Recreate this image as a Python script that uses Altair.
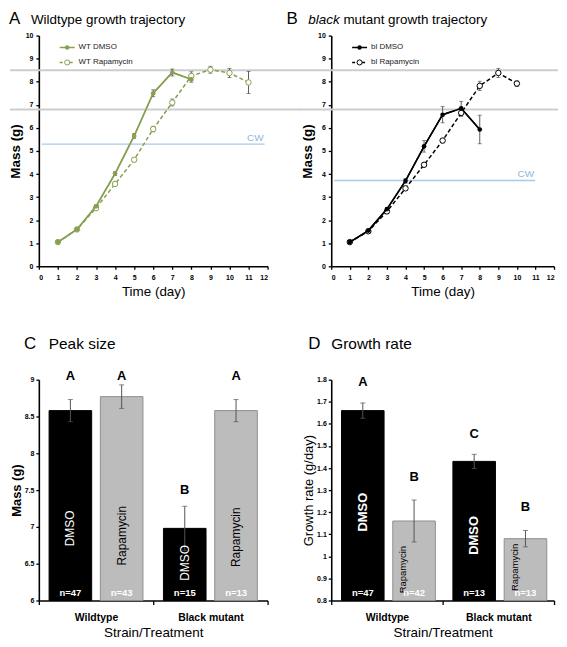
import altair as alt
import pandas as pd

FONT = "Liberation Sans"

# ---------------- Panel A / B data ----------------
wt_dmso_day = [1, 2, 3, 4, 5, 6, 7, 8]
wt_dmso_mass = [1.05, 1.60, 2.60, 4.02, 5.65, 7.50, 8.40, 8.10]
wt_dmso_err = [0.03, 0.04, 0.06, 0.08, 0.10, 0.15, 0.15, 0.12]
wt_rap_day = [1, 2, 3, 4, 5, 6, 7, 8, 9, 10, 11]
wt_rap_mass = [1.05, 1.60, 2.52, 3.57, 4.62, 5.95, 7.10, 8.25, 8.52, 8.38, 7.97]
wt_rap_err = [0.03, 0.04, 0.05, 0.06, 0.07, 0.12, 0.15, 0.18, 0.15, 0.20, 0.48]

bl_dmso_day = [1, 2, 3, 4, 5, 6, 7, 8]
bl_dmso_mass = [1.05, 1.55, 2.48, 3.70, 5.20, 6.57, 6.85, 5.93]
bl_dmso_err = [0.03, 0.04, 0.06, 0.10, 0.25, 0.35, 0.30, 0.62]
bl_rap_day = [1, 2, 3, 4, 5, 6, 7, 8, 9, 10]
bl_rap_mass = [1.05, 1.52, 2.38, 3.38, 4.40, 5.45, 6.65, 7.82, 8.38, 7.92]
bl_rap_err = [0.03, 0.04, 0.06, 0.06, 0.08, 0.10, 0.15, 0.20, 0.20, 0.12]

ref_gray = [8.5, 6.8]
cw_wt = 5.3
cw_bl = 3.72

x_ticks = list(range(0, 13))
y_ticks = list(range(0, 11))

# ---------------- Panel C / D data ----------------
strains = ["Wildtype", "Black mutant"]
treatments = ["DMSO", "Rapamycin"]
bar_strain = ["Wildtype", "Wildtype", "Black mutant", "Black mutant"]
bar_treat = ["DMSO", "Rapamycin", "DMSO", "Rapamycin"]

peak_mean = [8.58, 8.77, 6.98, 8.58]
peak_err = [0.15, 0.16, 0.30, 0.15]
peak_n = ["n=47", "n=43", "n=15", "n=13"]
peak_letter = ["A", "A", "B", "A"]
peak_letter_y = [9.0, 9.0, 7.45, 9.0]
peak_label_y = [6.98, 6.88, 6.51, 6.86]
peak_ticks = [6, 6.5, 7, 7.5, 8, 8.5, 9]

rate_mean = [1.66, 1.16, 1.43, 1.08]
rate_err = [0.035, 0.095, 0.032, 0.037]
rate_n = ["n=47", "n=42", "n=13", "n=13"]
rate_letter = ["A", "B", "C", "B"]
rate_letter_y = [1.77, 1.34, 1.535, 1.205]
rate_label_y = [1.20, 0.94, 1.095, 0.95]
rate_ticks = [0.8, 0.9, 1.0, 1.1, 1.2, 1.3, 1.4, 1.5, 1.6, 1.7, 1.8]

W1, W2 = 230, 224
H1, H2 = 232, 222
COLSP, ROWSP = 64, 114

OLIVE = "#86a04f"
GRAYLINE = "#cdcdcd"
CWBLUE = "#a9c9e8"


def txt(text, x, y, size, weight="normal", style="normal", color="black",
        align="left", baseline="alphabetic"):
    return alt.Chart(pd.DataFrame({"t": [text]})).mark_text(
        font=FONT, fontSize=size, fontWeight=weight, fontStyle=style,
        color=color, align=align, baseline=baseline
    ).encode(x=alt.value(x), y=alt.value(y), text="t:N")


def series_df(day, mass, err):
    return pd.DataFrame({
        "day": day, "y": mass,
        "lo": [m - e for m, e in zip(mass, err)],
        "hi": [m + e for m, e in zip(mass, err)],
    })


AX = dict(labelOverlap=False, labelFont=FONT, labelFontWeight="bold", labelFontSize=7,
          labelColor="black", tickColor="black", tickWidth=1.3, tickSize=3,
          domainColor="black", domainWidth=1.6, grid=False, titleFont=FONT,
          titleColor="black")


def traj_panel(dmso, rap, names, color, cw, width, line_l, line_r, cw_l, cw_r,
               title_layers):
    xs = alt.Scale(domain=[0, 12], nice=False)
    ys = alt.Scale(domain=[0, 10], nice=False)
    xa = alt.X("day:Q", scale=xs, axis=alt.Axis(values=x_ticks, tickCount=50, format="d",
                                                title="Time (day)",
                                                titleFontSize=13.5, titlePadding=4,
                                                titleFontWeight="normal",
                                                labelPadding=4, **AX))
    ya = alt.Y("y:Q", scale=ys, axis=alt.Axis(values=y_ticks, tickCount=50, format="d",
                                              title="Mass (g)",
                                              titleFontSize=13.5, titleFontWeight="bold",
                                              titlePadding=3, labelPadding=3, **AX))
    xn = alt.X("day:Q", scale=xs)
    yn = alt.Y("y:Q", scale=ys)

    layers = []
    gray = alt.Chart(pd.DataFrame({"y": ref_gray})).mark_rule(
        color=GRAYLINE, strokeWidth=2
    ).encode(y=yn, x=alt.value(line_l), x2=alt.value(line_r))
    cwl = alt.Chart(pd.DataFrame({"y": [cw]})).mark_rule(
        color=CWBLUE, strokeWidth=1.3
    ).encode(y=yn, x=alt.value(cw_l), x2=alt.value(cw_r))
    cwt = alt.Chart(pd.DataFrame({"y": [cw], "t": ["CW"]})).mark_text(
        font=FONT, fontSize=10, color="#8fb6e0", align="right", dy=-6
    ).encode(y=yn, x=alt.value(cw_r - 1), text="t:N")

    main = alt.Chart(dmso).mark_line(color=color, strokeWidth=1.5).encode(x=xa, y=ya)
    layers += [main, gray, cwl, cwt]

    for df in [rap, dmso]:
        eb = alt.Chart(df).mark_rule(color="#333333", strokeWidth=0.8).encode(
            x=xn, y=alt.Y("lo:Q", scale=ys), y2="hi:Q")
        cap_hi = alt.Chart(df).mark_tick(orient="horizontal", size=4, thickness=0.8,
                                         color="#333333").encode(
            x=xn, y=alt.Y("hi:Q", scale=ys))
        cap_lo = alt.Chart(df).mark_tick(orient="horizontal", size=4, thickness=0.8,
                                         color="#333333").encode(
            x=xn, y=alt.Y("lo:Q", scale=ys))
        layers += [eb, cap_hi, cap_lo]

    rap_line = alt.Chart(rap).mark_line(color=color, strokeWidth=1.5,
                                        strokeDash=[4, 2.5]).encode(x=xn, y=yn)
    rap_pts = alt.Chart(rap).mark_point(shape="circle", fill="white", fillOpacity=1,
                                        stroke=color, strokeWidth=1, size=30,
                                        opacity=1).encode(x=xn, y=yn)
    dmso_line = alt.Chart(dmso).mark_line(color=color, strokeWidth=1.5).encode(x=xn, y=yn)
    dmso_pts = alt.Chart(dmso).mark_point(shape="circle", filled=True, color=color,
                                          size=22, opacity=1).encode(x=xn, y=yn)
    layers += [rap_line, rap_pts, dmso_line, dmso_pts]

    # legend (manual, inside plot at top-left)
    for i, (nm, dashed, filled) in enumerate([(names[0], False, True), (names[1], True, False)]):
        yy = 12 + 15 * i
        d = pd.DataFrame({"t": [nm]})
        r = alt.Chart(d).mark_rule(color=color, strokeWidth=1.5,
                                   strokeDash=[3, 2] if dashed else [1, 0]).encode(
            x=alt.value(21), x2=alt.value(36), y=alt.value(yy))
        if filled:
            p = alt.Chart(d).mark_point(shape="circle", filled=True, color=color,
                                        size=20, opacity=1).encode(
                x=alt.value(28.5), y=alt.value(yy))
        else:
            p = alt.Chart(d).mark_point(shape="circle", fill="white", fillOpacity=1,
                                        stroke=color, strokeWidth=1, size=26,
                                        opacity=1).encode(
                x=alt.value(28.5), y=alt.value(yy))
        t = alt.Chart(d).mark_text(font=FONT, fontSize=8, align="left",
                                   baseline="middle", color="#222222").encode(
            x=alt.value(40), y=alt.value(yy), text="t:N")
        layers += [r, p, t]

    layers += title_layers
    return alt.layer(*layers).properties(width=width, height=H1)


def bar_panel(mean, err, ns, letters, letter_y, label_y, ydomain, yticks, ytitle,
              width, dmso_font, dmso_weight, rap_font, rap_dy, title_layers):
    df = pd.DataFrame({
        "strain": bar_strain, "treat": bar_treat, "mean": mean,
        "lo": [m - e for m, e in zip(mean, err)],
        "hi": [m + e for m, e in zip(mean, err)],
        "n": ns, "letter": letters, "ly": letter_y, "lab_y": label_y,
    })
    xscale = alt.Scale(paddingInner=0, paddingOuter=0)
    axx = dict(AX)
    axx.update(labelFontSize=10.5, tickSize=4)
    xa = alt.X("strain:N", sort=strains, scale=xscale,
               axis=alt.Axis(title="Strain/Treatment", tickBand="extent", labelAngle=0,
                             labelPadding=8, titleFontSize=13.5, titleFontWeight="normal",
                             titlePadding=3, **axx))
    xn = alt.X("strain:N", sort=strains, scale=xscale)
    xo = alt.XOffset("treat:N", sort=treatments,
                     scale=alt.Scale(paddingInner=0.17, paddingOuter=0.2))
    ys = alt.Scale(domain=ydomain, nice=False, zero=False)
    ya = alt.Y("mean:Q", scale=ys, axis=alt.Axis(values=yticks, tickCount=50, format="~g",
                                                 title=ytitle,
                                                 titleFontSize=13, titlePadding=1,
                                                 labelPadding=2,
                                                 titleFontWeight="bold" if ytitle == "Mass (g)" else "normal",
                                                 **AX))
    base = alt.Chart(df)
    bars = base.mark_bar(strokeWidth=1).encode(
        x=xa, xOffset=xo, y=ya, y2=alt.datum(ydomain[0]),
        fill=alt.Fill("treat:N", scale=alt.Scale(domain=treatments, range=["#000000", "#bcbcbc"]),
                      legend=None),
        stroke=alt.Stroke("treat:N", scale=alt.Scale(domain=treatments, range=["#000000", "#8e8e8e"]),
                          legend=None),
    )
    eb = base.mark_rule(color="#555555", strokeWidth=1).encode(
        x=xn, xOffset=xo, y=alt.Y("lo:Q", scale=ys), y2="hi:Q")
    cap = base.mark_tick(orient="horizontal", size=5, thickness=1, color="#555555").encode(
        x=xn, xOffset=xo, y=alt.Y("hi:Q", scale=ys))
    cap2 = base.mark_tick(orient="horizontal", size=5, thickness=1, color="#555555").encode(
        x=xn, xOffset=xo, y=alt.Y("lo:Q", scale=ys))
    let = base.mark_text(font=FONT, fontSize=13, fontWeight="bold", baseline="alphabetic").encode(
        x=xn, xOffset=xo, y=alt.Y("ly:Q", scale=ys), text="letter:N")
    lab_d = base.transform_filter("datum.treat == 'DMSO'").mark_text(
        font=FONT, fontSize=dmso_font, fontWeight=dmso_weight, angle=270, align="center",
        baseline="middle", color="white").encode(
        x=xn, xOffset=xo, y=alt.Y("lab_y:Q", scale=ys), text="treat:N")
    lab_r = base.transform_filter("datum.treat == 'Rapamycin'").mark_text(
        font=FONT, fontSize=rap_font, angle=270, align="center",
        baseline="middle", color="black", dy=rap_dy).encode(
        x=xn, xOffset=xo, y=alt.Y("lab_y:Q", scale=ys), text="treat:N")
    nlab = base.mark_text(font=FONT, fontSize=9.5, fontWeight="bold", color="white",
                          baseline="alphabetic").encode(
        x=xn, xOffset=xo, y=alt.value(H2 - 5), text="n:N")
    return alt.layer(bars, eb, cap, cap2, let, lab_d, lab_r, nlab, *title_layers).properties(
        width=width, height=H2)


# ---------------- build panels ----------------
TY = -12
titleA = [txt("A", -30, TY, 17), txt("Wildtype growth trajectory", -8, TY, 13.5)]
fs = 13.5
bx = -23
titleB = [txt("B", -45, TY, 17), txt("black", bx, TY, fs, style="italic"),
          txt("mutant growth trajectory", bx + 2.61 * fs, TY, fs)]
titleC = [txt("C", -15, -31, 17), txt("Peak size", 10, -31, 15.5)]
titleD = [txt("D", -23, -31, 17), txt("Growth rate", 0, -31, 15.5)]

A = traj_panel(series_df(wt_dmso_day, wt_dmso_mass, wt_dmso_err),
               series_df(wt_rap_day, wt_rap_mass, wt_rap_err),
               ["WT DMSO", "WT Rapamycin"], OLIVE, cw_wt, W1,
               -29, W1 + 34, 3, 227, titleA)
B = traj_panel(series_df(bl_dmso_day, bl_dmso_mass, bl_dmso_err),
               series_df(bl_rap_day, bl_rap_mass, bl_rap_err),
               ["bl DMSO", "bl Rapamycin"], "#000000", cw_bl, W2,
               -31, W2 + 4, 3, 205, titleB)
C = bar_panel(peak_mean, peak_err, peak_n, peak_letter, peak_letter_y, peak_label_y,
              [6, 9], peak_ticks, "Mass (g)", W1, 12, "normal", 12, 0, titleC)
D = bar_panel(rate_mean, rate_err, rate_n, rate_letter, rate_letter_y, rate_label_y,
              [0.8, 1.8], rate_ticks, "Growth rate (g/day)", W2, 13, "bold", 9.5, -11, titleD)

chart = alt.concat(A, B, C, D, columns=2, bounds="flush",
                   spacing={"row": ROWSP, "column": COLSP}, padding=0).configure_view(
    stroke=None
)

chart.save("out.html", embed_options={"renderer": "svg", "actions": False})
